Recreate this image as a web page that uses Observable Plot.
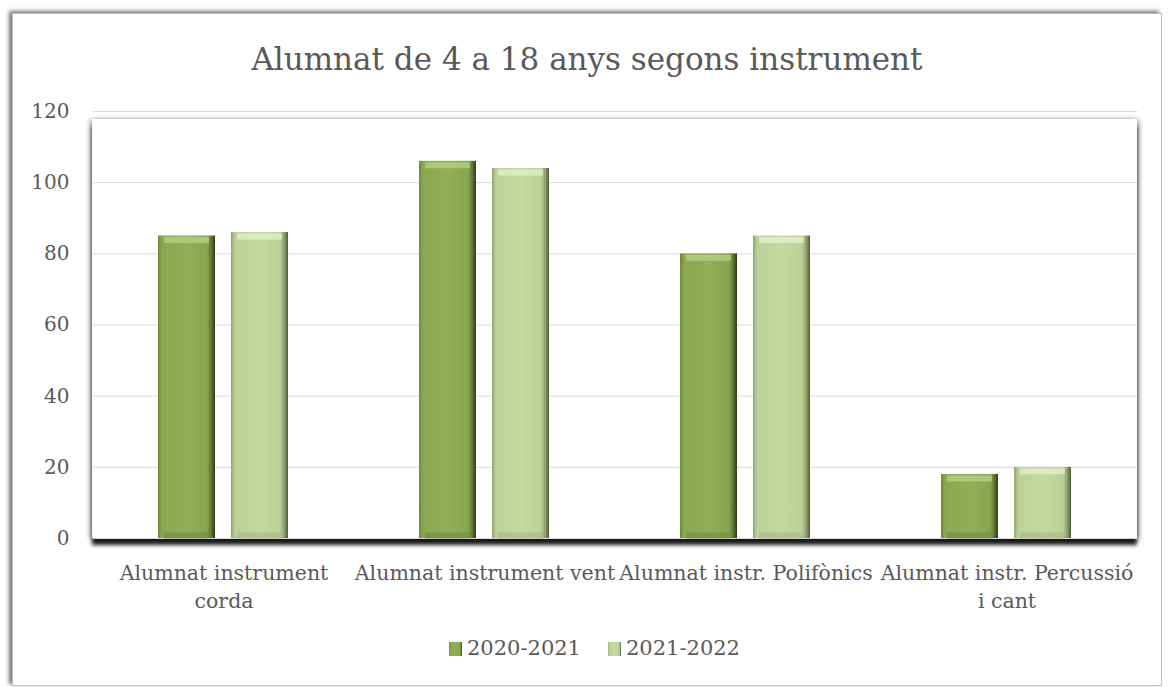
<!DOCTYPE html>
<html>
<head>
<meta charset="utf-8">
<script src="https://cdn.jsdelivr.net/npm/d3@7"></script>
<script src="https://cdn.jsdelivr.net/npm/@observablehq/plot@0.6"></script>
<style>
  html, body { margin: 0; padding: 0; background: #fff; }
  body { position: relative; width: 1170px; height: 687px; overflow: hidden; font-family: "DejaVu Serif", serif; color: #595959; }
  #outer { position: absolute; left: 12px; top: 13px; width: 1148px; height: 671px; border: 1px solid #bfbfbf; box-shadow: -3px -2px 4px rgba(0,0,0,0.55); background: #fff; }
  #plotbg { position: absolute; left: 92px; top: 119px; width: 1045px; height: 419px; background: #fff; box-shadow: 0 7px 4px rgba(0,0,0,0.9), -3px 0 4px rgba(0,0,0,0.25), 3px 0 4px rgba(0,0,0,0.25); }
  #title { position: absolute; left: 12px; width: 1150px; top: 44px; text-align: center; font-size: 31px; line-height: 31px; white-space: nowrap; }
  #chart { position: absolute; left: 0; top: 95px; }
  #legend { position: absolute; left: 449px; top: 638px; font-size: 21px; line-height: 21px; white-space: nowrap; display: flex; align-items: flex-end; }
  .sw { display: inline-block; width: 13px; height: 14px; margin-right: 5px; margin-bottom: 3px; }
  .item { display: flex; align-items: flex-end; }
</style>
</head>
<body>
<svg width="0" height="0" style="position:absolute">
  <defs>
    <linearGradient id="gDark" x1="0" y1="0" x2="1" y2="0">
      <stop offset="0" stop-color="#6d883b"/>
      <stop offset="0.07" stop-color="#8aa851"/>
      <stop offset="0.5" stop-color="#92ae57"/>
      <stop offset="0.86" stop-color="#89a54f"/>
      <stop offset="0.94" stop-color="#5a7330"/>
      <stop offset="1" stop-color="#2e3a18"/>
    </linearGradient>
    <linearGradient id="gLight" x1="0" y1="0" x2="1" y2="0">
      <stop offset="0" stop-color="#8fa46f"/>
      <stop offset="0.07" stop-color="#bcd197"/>
      <stop offset="0.5" stop-color="#c4d8a0"/>
      <stop offset="0.86" stop-color="#bcd096"/>
      <stop offset="0.94" stop-color="#889c68"/>
      <stop offset="1" stop-color="#4d5a3a"/>
    </linearGradient>
  </defs>
</svg>
<div id="outer"></div>
<div id="plotbg"></div>
<div id="title">Alumnat de 4 a 18 anys segons instrument</div>
<div id="chart"></div>
<div id="legend"></div>
<script>
const categories = ["Alumnat instrument corda", "Alumnat instrument vent", "Alumnat instr. Polifònics", "Alumnat instr. Percussió i cant"];
const tickLabels = ["Alumnat instrument\ncorda", "Alumnat instrument vent", "Alumnat instr. Polifònics", "Alumnat instr. Percussió\ni cant"];
const series = ["2020-2021", "2021-2022"];
const values2020 = [85, 106, 80, 18];
const values2021 = [86, 104, 85, 20];
const yTicks = [0, 20, 40, 60, 80, 100, 120];
const seriesFill = ["url(#gDark)", "url(#gLight)"];
const topHighlight = ["#b9d086", "#e6f2cf"];
const bottomShade = ["#6f8a3e", "#a3b884"];

const data = categories.flatMap((c, i) => [
  {cat: c, series: series[0], value: values2020[i]},
  {cat: c, series: series[1], value: values2021[i]}
]);

const marks = [
  Plot.gridY(yTicks, {stroke: "#d9d9d9", strokeOpacity: 1, strokeWidth: 1}),
  Plot.axisY({ticks: yTicks, tickSize: 0, tickPadding: 24, fontSize: 20, label: null, fill: "#595959"}),
  Plot.axisFx({anchor: "bottom", tickSize: 0, tickPadding: 22, fontSize: 20.5, lineHeight: 1.35, label: null, fill: "#595959",
    tickFormat: d => tickLabels[categories.indexOf(d)]}),
  Plot.barY(data, {fx: "cat", x: "series", y: "value", fill: "series"})
];
series.forEach((s, k) => {
  const sub = data.filter(d => d.series === s);
  marks.push(Plot.tickY(sub, {fx: "cat", x: "series", y: "value", stroke: topHighlight[k], strokeWidth: 6, dy: 4, strokeOpacity: 0.75, insetLeft: 6, insetRight: 6}));
  marks.push(Plot.tickY(sub, {fx: "cat", x: "series", y: () => 0, stroke: bottomShade[k], strokeWidth: 6, dy: -3, strokeOpacity: 0.6, insetLeft: 6, insetRight: 6}));
});

const chart = Plot.plot({
  width: 1170,
  height: 510,
  marginLeft: 92,
  marginRight: 33,
  marginTop: 16,
  marginBottom: 67,
  style: {fontFamily: "DejaVu Serif", color: "#595959", background: "transparent", overflow: "visible"},
  fx: {domain: categories, paddingInner: 0, paddingOuter: 0, label: null},
  x: {domain: series, paddingInner: 0.216, paddingOuter: 0.873, axis: null},
  y: {domain: [0, 120], label: null, axis: null},
  color: {domain: series, range: seriesFill},
  marks
});
document.getElementById("chart").appendChild(chart);

const legend = document.getElementById("legend");
series.forEach((s, k) => {
  const item = document.createElement("div");
  item.className = "item";
  if (k > 0) item.style.marginLeft = "27px";
  const sw = document.createElementNS("http://www.w3.org/2000/svg", "svg");
  sw.setAttribute("class", "sw");
  sw.setAttribute("width", 13); sw.setAttribute("height", 14);
  const r = document.createElementNS("http://www.w3.org/2000/svg", "rect");
  r.setAttribute("width", 13); r.setAttribute("height", 14);
  r.setAttribute("fill", seriesFill[k]);
  sw.appendChild(r);
  item.appendChild(sw);
  const t = document.createElement("span");
  t.textContent = s;
  item.appendChild(t);
  legend.appendChild(item);
});
</script>
</body>
</html>
